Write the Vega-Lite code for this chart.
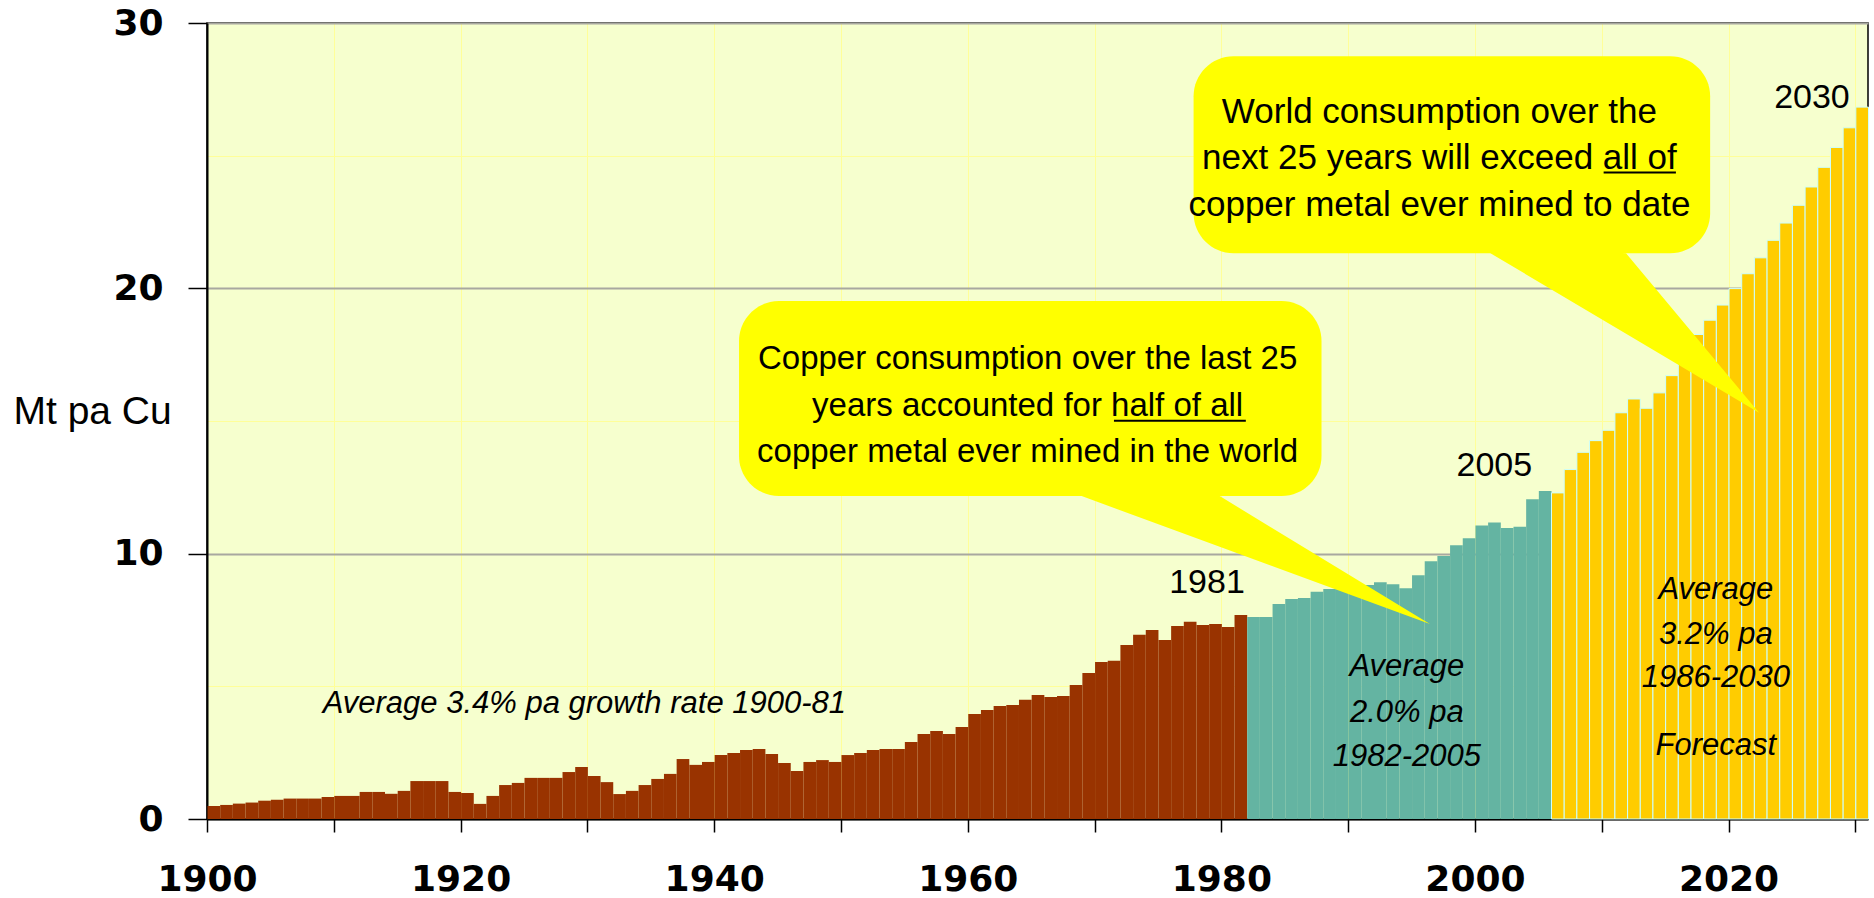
{
  "$schema": "https://vega.github.io/schema/vega-lite/v6.json",
  "width": 1661,
  "height": 796,
  "autosize": {"type": "none"},
  "padding": {"left": 207, "top": 23, "right": 6, "bottom": 79},
  "background": "#FFFFFF",
  "config": {
    "view": {"fill": "#F6FFCE", "stroke": "#000000", "strokeWidth": 1.5}
  },
  "datasets": {
    "bars": [
      {"year": 1900, "value": 0.49, "period": "history"},
      {"year": 1901, "value": 0.53, "period": "history"},
      {"year": 1902, "value": 0.58, "period": "history"},
      {"year": 1903, "value": 0.62, "period": "history"},
      {"year": 1904, "value": 0.69, "period": "history"},
      {"year": 1905, "value": 0.73, "period": "history"},
      {"year": 1906, "value": 0.77, "period": "history"},
      {"year": 1907, "value": 0.77, "period": "history"},
      {"year": 1908, "value": 0.77, "period": "history"},
      {"year": 1909, "value": 0.83, "period": "history"},
      {"year": 1910, "value": 0.87, "period": "history"},
      {"year": 1911, "value": 0.87, "period": "history"},
      {"year": 1912, "value": 1.02, "period": "history"},
      {"year": 1913, "value": 1.02, "period": "history"},
      {"year": 1914, "value": 0.95, "period": "history"},
      {"year": 1915, "value": 1.06, "period": "history"},
      {"year": 1916, "value": 1.43, "period": "history"},
      {"year": 1917, "value": 1.43, "period": "history"},
      {"year": 1918, "value": 1.43, "period": "history"},
      {"year": 1919, "value": 1.02, "period": "history"},
      {"year": 1920, "value": 0.98, "period": "history"},
      {"year": 1921, "value": 0.57, "period": "history"},
      {"year": 1922, "value": 0.87, "period": "history"},
      {"year": 1923, "value": 1.28, "period": "history"},
      {"year": 1924, "value": 1.36, "period": "history"},
      {"year": 1925, "value": 1.55, "period": "history"},
      {"year": 1926, "value": 1.55, "period": "history"},
      {"year": 1927, "value": 1.55, "period": "history"},
      {"year": 1928, "value": 1.77, "period": "history"},
      {"year": 1929, "value": 1.96, "period": "history"},
      {"year": 1930, "value": 1.62, "period": "history"},
      {"year": 1931, "value": 1.39, "period": "history"},
      {"year": 1932, "value": 0.94, "period": "history"},
      {"year": 1933, "value": 1.06, "period": "history"},
      {"year": 1934, "value": 1.28, "period": "history"},
      {"year": 1935, "value": 1.51, "period": "history"},
      {"year": 1936, "value": 1.70, "period": "history"},
      {"year": 1937, "value": 2.26, "period": "history"},
      {"year": 1938, "value": 2.04, "period": "history"},
      {"year": 1939, "value": 2.15, "period": "history"},
      {"year": 1940, "value": 2.41, "period": "history"},
      {"year": 1941, "value": 2.49, "period": "history"},
      {"year": 1942, "value": 2.60, "period": "history"},
      {"year": 1943, "value": 2.64, "period": "history"},
      {"year": 1944, "value": 2.45, "period": "history"},
      {"year": 1945, "value": 2.11, "period": "history"},
      {"year": 1946, "value": 1.81, "period": "history"},
      {"year": 1947, "value": 2.15, "period": "history"},
      {"year": 1948, "value": 2.22, "period": "history"},
      {"year": 1949, "value": 2.15, "period": "history"},
      {"year": 1950, "value": 2.41, "period": "history"},
      {"year": 1951, "value": 2.49, "period": "history"},
      {"year": 1952, "value": 2.60, "period": "history"},
      {"year": 1953, "value": 2.64, "period": "history"},
      {"year": 1954, "value": 2.64, "period": "history"},
      {"year": 1955, "value": 2.90, "period": "history"},
      {"year": 1956, "value": 3.20, "period": "history"},
      {"year": 1957, "value": 3.32, "period": "history"},
      {"year": 1958, "value": 3.20, "period": "history"},
      {"year": 1959, "value": 3.47, "period": "history"},
      {"year": 1960, "value": 3.96, "period": "history"},
      {"year": 1961, "value": 4.11, "period": "history"},
      {"year": 1962, "value": 4.26, "period": "history"},
      {"year": 1963, "value": 4.30, "period": "history"},
      {"year": 1964, "value": 4.49, "period": "history"},
      {"year": 1965, "value": 4.67, "period": "history"},
      {"year": 1966, "value": 4.60, "period": "history"},
      {"year": 1967, "value": 4.64, "period": "history"},
      {"year": 1968, "value": 5.05, "period": "history"},
      {"year": 1969, "value": 5.50, "period": "history"},
      {"year": 1970, "value": 5.92, "period": "history"},
      {"year": 1971, "value": 5.96, "period": "history"},
      {"year": 1972, "value": 6.56, "period": "history"},
      {"year": 1973, "value": 6.94, "period": "history"},
      {"year": 1974, "value": 7.12, "period": "history"},
      {"year": 1975, "value": 6.75, "period": "history"},
      {"year": 1976, "value": 7.27, "period": "history"},
      {"year": 1977, "value": 7.43, "period": "history"},
      {"year": 1978, "value": 7.31, "period": "history"},
      {"year": 1979, "value": 7.35, "period": "history"},
      {"year": 1980, "value": 7.24, "period": "history"},
      {"year": 1981, "value": 7.69, "period": "history"},
      {"year": 1982, "value": 7.61, "period": "recent"},
      {"year": 1983, "value": 7.61, "period": "recent"},
      {"year": 1984, "value": 8.10, "period": "recent"},
      {"year": 1985, "value": 8.29, "period": "recent"},
      {"year": 1986, "value": 8.33, "period": "recent"},
      {"year": 1987, "value": 8.56, "period": "recent"},
      {"year": 1988, "value": 8.67, "period": "recent"},
      {"year": 1989, "value": 8.72, "period": "recent"},
      {"year": 1990, "value": 8.78, "period": "recent"},
      {"year": 1991, "value": 8.82, "period": "recent"},
      {"year": 1992, "value": 8.92, "period": "recent"},
      {"year": 1993, "value": 8.85, "period": "recent"},
      {"year": 1994, "value": 8.70, "period": "recent"},
      {"year": 1995, "value": 9.19, "period": "recent"},
      {"year": 1996, "value": 9.71, "period": "recent"},
      {"year": 1997, "value": 9.91, "period": "recent"},
      {"year": 1998, "value": 10.32, "period": "recent"},
      {"year": 1999, "value": 10.58, "period": "recent"},
      {"year": 2000, "value": 11.06, "period": "recent"},
      {"year": 2001, "value": 11.17, "period": "recent"},
      {"year": 2002, "value": 10.97, "period": "recent"},
      {"year": 2003, "value": 11.01, "period": "recent"},
      {"year": 2004, "value": 12.05, "period": "recent"},
      {"year": 2005, "value": 12.36, "period": "recent"},
      {"year": 2006, "value": 12.29, "period": "forecast"},
      {"year": 2007, "value": 13.17, "period": "forecast"},
      {"year": 2008, "value": 13.82, "period": "forecast"},
      {"year": 2009, "value": 14.26, "period": "forecast"},
      {"year": 2010, "value": 14.65, "period": "forecast"},
      {"year": 2011, "value": 15.31, "period": "forecast"},
      {"year": 2012, "value": 15.83, "period": "forecast"},
      {"year": 2013, "value": 15.48, "period": "forecast"},
      {"year": 2014, "value": 16.06, "period": "forecast"},
      {"year": 2015, "value": 16.71, "period": "forecast"},
      {"year": 2016, "value": 17.45, "period": "forecast"},
      {"year": 2017, "value": 18.26, "period": "forecast"},
      {"year": 2018, "value": 18.80, "period": "forecast"},
      {"year": 2019, "value": 19.37, "period": "forecast"},
      {"year": 2020, "value": 19.99, "period": "forecast"},
      {"year": 2021, "value": 20.55, "period": "forecast"},
      {"year": 2022, "value": 21.15, "period": "forecast"},
      {"year": 2023, "value": 21.81, "period": "forecast"},
      {"year": 2024, "value": 22.46, "period": "forecast"},
      {"year": 2025, "value": 23.13, "period": "forecast"},
      {"year": 2026, "value": 23.82, "period": "forecast"},
      {"year": 2027, "value": 24.56, "period": "forecast"},
      {"year": 2028, "value": 25.31, "period": "forecast"},
      {"year": 2029, "value": 26.05, "period": "forecast"},
      {"year": 2030, "value": 26.83, "period": "forecast"}
    ],
    "tails": [
      {"id": "a", "tx": 1968.98, "ty": 12.6, "ty2": 12.17},
      {"id": "a", "tx": 1979.87, "ty": 12.17, "ty2": 10.26},
      {"id": "a", "tx": 1996.45, "ty": 7.35, "ty2": 7.35},
      {"id": "b", "tx": 2001.23, "ty": 21.7, "ty2": 21.32},
      {"id": "b", "tx": 2011.92, "ty": 21.32, "ty2": 18.29},
      {"id": "b", "tx": 2022.41, "ty": 15.31, "ty2": 15.31}
    ],
    "boxes": [
      {"bx": 1941.96, "bx2": 1987.9, "by": 19.52, "by2": 12.17},
      {"bx": 1977.81, "bx2": 2018.55, "by": 28.75, "by2": 21.32}
    ],
    "yearLabels": [
      {"t": "1981", "x": 1978.87, "y": 8.53},
      {"t": "2005", "x": 2001.53, "y": 12.93},
      {"t": "2030", "x": 2026.58, "y": 26.8}
    ],
    "italicNotes": [
      {"t": "Average  3.4% pa growth rate 1900-81", "x": 1929.76, "y": 3.98},
      {"t": "Average", "x": 1994.63, "y": 5.39},
      {"t": "2.0% pa", "x": 1994.63, "y": 3.67},
      {"t": "1982-2005", "x": 1994.63, "y": 1.99},
      {"t": "Average", "x": 2019.0, "y": 8.28},
      {"t": "3.2% pa", "x": 2019.0, "y": 6.60},
      {"t": "1986-2030", "x": 2019.0, "y": 4.98},
      {"t": "Forecast", "x": 2019.0, "y": 2.43}
    ],
    "callout1": [
      {"t": "Copper consumption over the last 25", "x": 1964.72, "y": 16.95},
      {"t": "years accounted for half of all", "x": 1964.72, "y": 15.19},
      {"t": "copper metal ever mined in the world", "x": 1964.72, "y": 13.45}
    ],
    "callout2": [
      {"t": "World consumption over the", "x": 1997.2, "y": 26.23},
      {"t": "next 25 years will exceed all of", "x": 1997.2, "y": 24.50},
      {"t": "copper metal ever mined to date", "x": 1997.2, "y": 22.73}
    ],
    "underlines": [
      {"ux": 1971.53, "ux2": 1981.93, "uy": 15.01},
      {"ux": 2010.15, "ux2": 2015.85, "uy": 24.37}
    ]
  },
  "layer": [
    {
      "data": {"name": "bars"},
      "transform": [{"filter": "datum.period == 'history'"}],
      "mark": {"type": "bar", "color": "#993300", "binSpacing": 0},
      "encoding": {
        "x": {
          "field": "year", "type": "quantitative", "bin": {"step": 1, "extent": [1900, 2031]},
          "scale": {"domain": [1900, 2031], "nice": false, "zero": false},
          "axis": {
            "title": null,
            "values": [1900, 1910, 1920, 1930, 1940, 1950, 1960, 1970, 1980, 1990, 2000, 2010, 2020, 2030],
            "format": "d",
            "labelExpr": "datum.value % 20 == 0 ? datum.label : ''",
            "labelFont": "DejaVu Sans", "labelFontWeight": "bold", "labelFontSize": 36, "labelColor": "#000000",
            "labelPadding": 30, "labelFlush": false, "labelOverlap": false, "labelBound": false,
            "tickSize": 13, "tickColor": "#000000", "tickWidth": 1.5,
            "domainColor": "#000000", "domainWidth": 2,
            "grid": true, "gridColor": "#FFFF99", "gridWidth": 1
          }
        },
        "y": {
          "field": "value", "type": "quantitative", "stack": null,
          "scale": {"domain": [0, 30], "nice": false},
          "axis": {
            "title": "Mt pa Cu",
            "titleAngle": 0, "titleAlign": "left", "titleBaseline": "alphabetic",
            "titleX": -194, "titleY": 400,
            "titleFont": "Liberation Sans", "titleFontSize": 39, "titleFontWeight": "normal", "titleColor": "#000000",
            "values": [0, 5, 10, 15, 20, 25, 30],
            "labelExpr": "datum.value % 10 == 0 ? datum.label : ''",
            "labelFont": "DejaVu Sans", "labelFontWeight": "bold", "labelFontSize": 36, "labelColor": "#000000",
            "labelPadding": 25, "labelFlush": false, "labelOverlap": false, "labelBound": false,
            "tickSize": 19, "tickColor": "#000000", "tickWidth": 1.5,
            "tickOpacity": {"condition": {"test": "datum.value % 10 != 0", "value": 0}, "value": 1},
            "domainColor": "#000000", "domainWidth": 2,
            "grid": true,
            "gridColor": {"condition": {"test": "datum.value % 10 == 0", "value": "#A8A8A0"}, "value": "#FFFF99"},
            "gridWidth": {"condition": {"test": "datum.value % 10 == 0", "value": 2}, "value": 1}
          }
        }
      }
    },
    {
      "data": {"name": "bars"},
      "transform": [{"filter": "datum.period == 'recent'"}],
      "mark": {"type": "bar", "color": "#64B4A2", "binSpacing": 0},
      "encoding": {
        "x": {"field": "year", "type": "quantitative", "bin": {"step": 1, "extent": [1900, 2031]}, "scale": {"domain": [1900, 2031], "nice": false, "zero": false}},
        "y": {"field": "value", "type": "quantitative", "stack": null, "scale": {"domain": [0, 30], "nice": false}}
      }
    },
    {
      "data": {"name": "bars"},
      "transform": [{"filter": "datum.period == 'forecast'"}],
      "mark": {"type": "bar", "color": "#FFCC00", "stroke": "#CCFFFF", "strokeWidth": 1, "binSpacing": 0},
      "encoding": {
        "x": {"field": "year", "type": "quantitative", "bin": {"step": 1, "extent": [1900, 2031]}, "scale": {"domain": [1900, 2031], "nice": false, "zero": false}},
        "y": {"field": "value", "type": "quantitative", "stack": null, "scale": {"domain": [0, 30], "nice": false}}
      }
    },
    {
      "data": {"name": "tails"},
      "mark": {"type": "area", "color": "#FFFF00", "orient": "vertical"},
      "encoding": {
        "x": {"field": "tx", "type": "quantitative", "scale": {"domain": [1900, 2031], "nice": false, "zero": false}},
        "y": {"field": "ty", "type": "quantitative", "stack": null, "scale": {"domain": [0, 30], "nice": false}},
        "y2": {"field": "ty2"},
        "detail": {"field": "id"}
      }
    },
    {
      "data": {"name": "boxes"},
      "mark": {"type": "rect", "color": "#FFFF00", "cornerRadius": 40},
      "encoding": {
        "x": {"field": "bx", "type": "quantitative", "scale": {"domain": [1900, 2031], "nice": false, "zero": false}},
        "x2": {"field": "bx2"},
        "y": {"field": "by", "type": "quantitative", "scale": {"domain": [0, 30], "nice": false}},
        "y2": {"field": "by2"}
      }
    },
    {
      "data": {"name": "underlines"},
      "mark": {"type": "rule", "color": "#000000", "strokeWidth": 2},
      "encoding": {
        "x": {"field": "ux", "type": "quantitative", "scale": {"domain": [1900, 2031], "nice": false, "zero": false}},
        "x2": {"field": "ux2"},
        "y": {"field": "uy", "type": "quantitative", "scale": {"domain": [0, 30], "nice": false}}
      }
    },
    {
      "data": {"name": "yearLabels"},
      "mark": {"type": "text", "font": "Liberation Sans", "fontSize": 34, "align": "center", "baseline": "alphabetic", "color": "#000000"},
      "encoding": {
        "x": {"field": "x", "type": "quantitative", "scale": {"domain": [1900, 2031], "nice": false, "zero": false}},
        "y": {"field": "y", "type": "quantitative", "scale": {"domain": [0, 30], "nice": false}},
        "text": {"field": "t"}
      }
    },
    {
      "data": {"name": "italicNotes"},
      "mark": {"type": "text", "font": "Liberation Sans", "fontSize": 31, "fontStyle": "italic", "align": "center", "baseline": "alphabetic", "color": "#000000"},
      "encoding": {
        "x": {"field": "x", "type": "quantitative", "scale": {"domain": [1900, 2031], "nice": false, "zero": false}},
        "y": {"field": "y", "type": "quantitative", "scale": {"domain": [0, 30], "nice": false}},
        "text": {"field": "t"}
      }
    },
    {
      "data": {"name": "callout1"},
      "mark": {"type": "text", "font": "Liberation Sans", "fontSize": 33, "align": "center", "baseline": "alphabetic", "color": "#000000"},
      "encoding": {
        "x": {"field": "x", "type": "quantitative", "scale": {"domain": [1900, 2031], "nice": false, "zero": false}},
        "y": {"field": "y", "type": "quantitative", "scale": {"domain": [0, 30], "nice": false}},
        "text": {"field": "t"}
      }
    },
    {
      "data": {"name": "callout2"},
      "mark": {"type": "text", "font": "Liberation Sans", "fontSize": 35, "align": "center", "baseline": "alphabetic", "color": "#000000"},
      "encoding": {
        "x": {"field": "x", "type": "quantitative", "scale": {"domain": [1900, 2031], "nice": false, "zero": false}},
        "y": {"field": "y", "type": "quantitative", "scale": {"domain": [0, 30], "nice": false}},
        "text": {"field": "t"}
      }
    }
  ]
}
